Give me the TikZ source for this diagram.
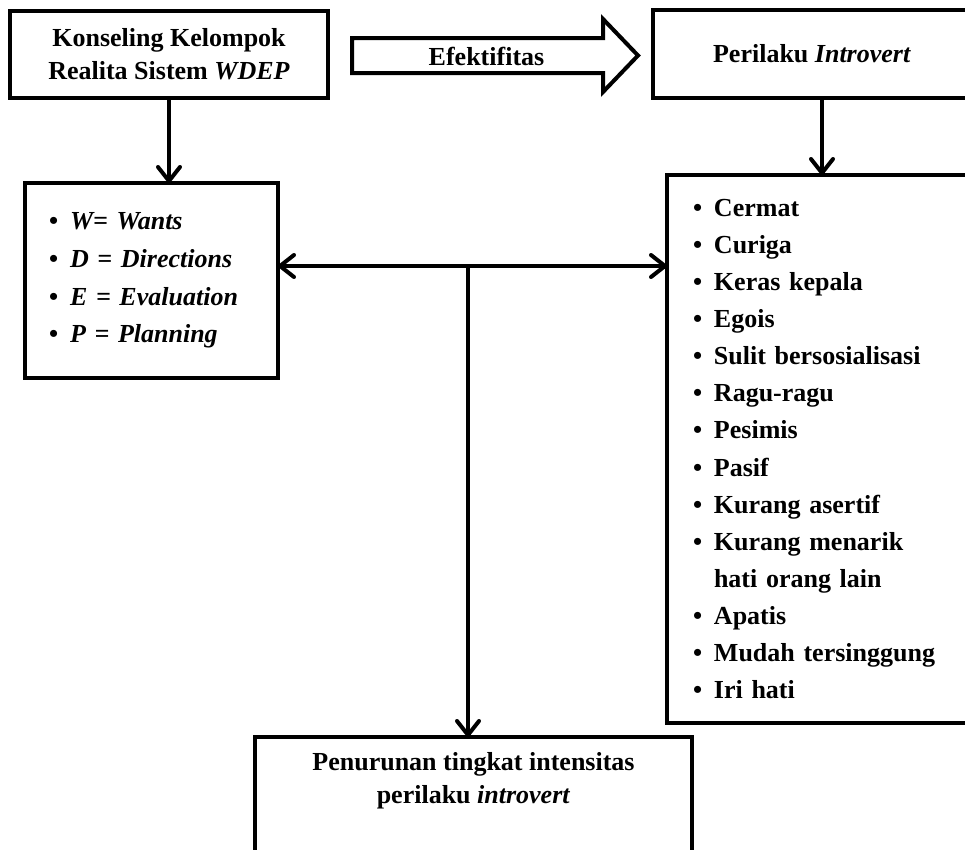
\documentclass[tikz,border=0pt]{standalone}
\usepackage{fontspec}
\setmainfont{Liberation Serif}
\usetikzlibrary{arrows.meta}

\newcommand{\butir}[1]{\makebox[21pt][l]{\textbullet}#1}

\begin{document}
\begin{tikzpicture}[x=1pt,y=-1pt,
    >={Straight Barb[length=14pt,width=22pt,round]},
    kotak/.style={draw,rectangle,line width=4pt,inner sep=0pt,outer sep=0pt,
      font=\bfseries\fontsize{26}{33}\selectfont},
    panah/.style={line width=4pt}]
        \useasboundingbox (0,0) rectangle (965,849);
        \clip (0,0) rectangle (965,849);
        % kotak-kotak
        \draw (169,54.5) node[kotak,minimum width=318pt,minimum height=87pt,align=center] (konseling)
          {Konseling Kelompok\\Realita Sistem \textit{WDEP}};
        \draw (812,54) node[kotak,minimum width=318pt,minimum height=88pt] (perilaku)
          {Perilaku \textit{Introvert}};
        \draw (151.5,280.5) node[kotak,minimum width=253pt,minimum height=195pt,
          text width=205pt,align=left,font=\bfseries\fontsize{26}{37.7}\selectfont] (wdep)
          {\butir{\textit{W= Wants}}\\\butir{\textit{D = Directions}}\\
           \butir{\textit{E = Evaluation}}\\\butir{\textit{P = Planning}}};
        \draw (822,449) node[kotak,minimum width=310pt,minimum height=548pt,
          text width=258pt,align=left,font=\bfseries\fontsize{26}{37.1}\selectfont] (sifat)
          {\butir{Cermat}\\\butir{Curiga}\\\butir{Keras kepala}\\\butir{Egois}\\
           \butir{Sulit bersosialisasi}\\\butir{Ragu-ragu}\\\butir{Pesimis}\\
           \butir{Pasif}\\\butir{Kurang asertif}\\\butir{Kurang menarik}\\
           \hspace*{21pt}hati orang lain\\\butir{Apatis}\\\butir{Mudah tersinggung}\\
           \butir{Iri hati}};
        \draw (473.5,737) node[kotak,anchor=north,minimum width=437pt,inner ysep=15pt,align=center] (hasil)
          {Penurunan tingkat intensitas\\perilaku \textit{introvert}\\[70pt]\mbox{}};
        % panah blok efektifitas
        \draw[line width=4pt,line join=miter] (352,38) -- (603,38) -- (603,19) -- (638,55.5)
          -- (603,92) -- (603,73) -- (352,73) -- cycle;
        \draw (486.5,65) node[anchor=base,font=\bfseries\fontsize{26}{33}\selectfont] (efek) {Efektifitas};
        % penghubung
        \coordinate (hub) at (468,266);
        \draw[panah,->] (konseling.south) -- (konseling.south |- wdep.north);
        \draw[panah,->] (sifat.north |- perilaku.south) -- (sifat.north);
        \draw[panah,<->] (hub -| wdep.east) -- (hub -| sifat.west);
        \draw[panah,->] (hub) -- (hub |- hasil.north);
\end{tikzpicture}
\end{document}
